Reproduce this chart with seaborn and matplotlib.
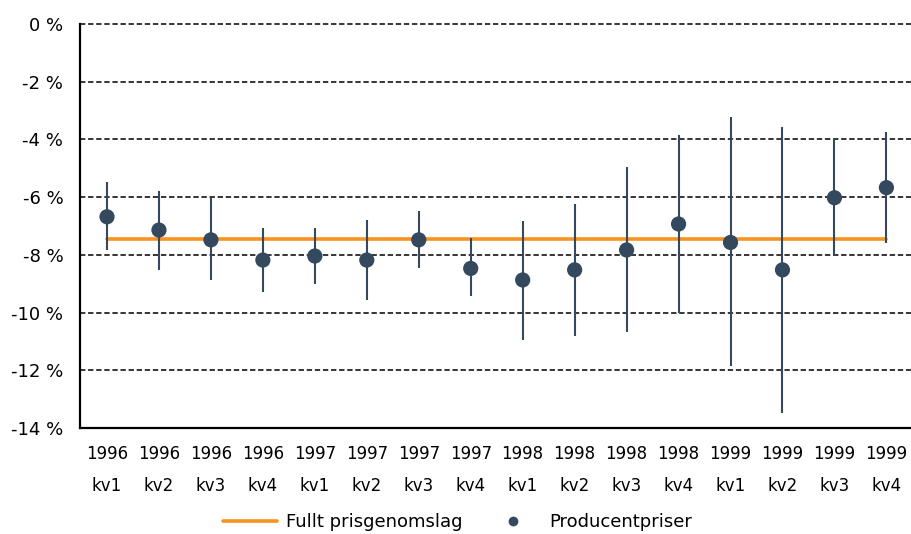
import matplotlib
matplotlib.use("Agg")
import matplotlib.pyplot as plt
import numpy as np
import seaborn as sns
from matplotlib.lines import Line2D

# values (percent)
years = ["1996"] * 4 + ["1997"] * 4 + ["1998"] * 4 + ["1999"] * 4
quarters = ["kv1", "kv2", "kv3", "kv4"] * 4
producer = [-6.68, -7.14, -7.48, -8.18, -8.04, -8.18, -7.48, -8.47,
            -8.87, -8.52, -7.83, -6.93, -7.57, -8.52, -6.02, -5.67]
upper = [-5.49, -5.78, -6.03, -7.08, -7.08, -6.79, -6.47, -7.43,
         -6.82, -6.25, -4.94, -3.84, -3.21, -3.56, -3.97, -3.75]
lower = [-7.83, -8.52, -8.87, -9.30, -9.01, -9.56, -8.44, -9.41,
         -10.95, -10.81, -10.66, -10.03, -11.85, -13.49, -8.03, -7.60]
full_passthrough = [-7.45] * 16

ORANGE = "#F7931E"
DOT = "#34495E"

sns.set_style("white")
plt.rcParams["font.family"] = ["DejaVu Sans"]
plt.rcParams["text.color"] = "black"
plt.rcParams["xtick.color"] = "black"
plt.rcParams["ytick.color"] = "black"

x = np.arange(len(producer))
labels = [f"{y}\n{q}" for y, q in zip(years, quarters)]

fig = plt.figure(figsize=(9.11, 5.34), dpi=100)
ax = fig.add_axes([0.0878, 0.1985, 0.912, 0.7565])

ax.vlines(x, lower, upper, color=DOT, linewidth=1.5, zorder=3)
sns.lineplot(x=x, y=full_passthrough, ax=ax, color=ORANGE, linewidth=2.6, zorder=2)
sns.scatterplot(x=x, y=producer, ax=ax, color=DOT, s=120, edgecolor="none", zorder=4)

ax.set_xlim(-0.52, 15.47)
ax.set_ylim(-14, 0)
ax.set_yticks(np.arange(-14, 1, 2))
ax.set_yticklabels([f"{v} %" for v in range(-14, 1, 2)], fontsize=13)
ax.set_xticks(x)
ax.set_xticklabels(labels, fontsize=12, linespacing=2.0)
ax.tick_params(axis="x", length=0, pad=12)
ax.tick_params(axis="y", length=6, width=1.2, direction="out", pad=6)

for v in range(-12, 1, 2):
    ax.axhline(v, color="black", linewidth=1.1, linestyle=(0, (3.5, 1.8)),
               zorder=1, clip_on=False)

for side in ["top", "right"]:
    ax.spines[side].set_visible(False)
for side in ["left", "bottom"]:
    ax.spines[side].set_color("black")
    ax.spines[side].set_linewidth(1.6)

handles = [
    Line2D([0], [0], color=ORANGE, linewidth=2.6),
    Line2D([0], [0], color=DOT, marker="o", linestyle="none", markersize=6),
]
fig.legend(handles, ["Fullt prisgenomslag", "Producentpriser"], loc="lower center",
           bbox_to_anchor=(0.502, -0.025), ncol=2, frameon=False, fontsize=13,
           columnspacing=1.3, handlelength=3, handletextpad=0.5)

fig.savefig("out.png", dpi=100)
